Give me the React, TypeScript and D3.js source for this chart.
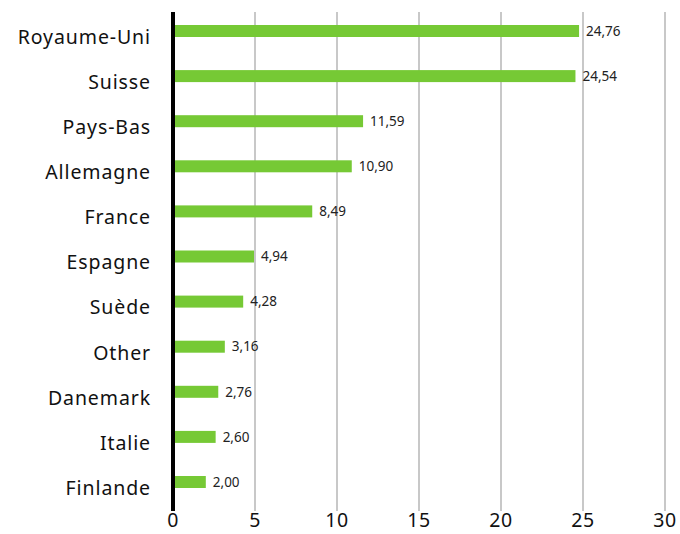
import React from 'react';
import * as d3 from 'd3';

const countries = ['Royaume-Uni', 'Suisse', 'Pays-Bas', 'Allemagne', 'France', 'Espagne', 'Suède', 'Other', 'Danemark', 'Italie', 'Finlande'];
const values = [24.76, 24.54, 11.59, 10.9, 8.49, 4.94, 4.28, 3.16, 2.76, 2.6, 2.0];
const ticks = [0, 5, 10, 15, 20, 25, 30];

const W = 680;
const H = 534;
const FONT = '"Noto Sans", sans-serif';

export default function App() {
  const x = d3.scaleLinear().domain([0, 30]).range([173, 665]);
  const y = d3.scaleBand<string>()
    .domain(countries)
    .range([8.45, 504.55])
    .paddingInner(0.734)
    .paddingOuter(0.367);
  const bw = y.bandwidth();
  const fmt = (v: number) => v.toFixed(2).replace('.', ',');

  return (
    <svg width={W} height={H} style={{ position: 'absolute', left: 0, top: 0 }} fontFamily={FONT}>
      {/* grid */}
      {ticks.slice(1).map(t => (
        <line key={t} x1={x(t)} x2={x(t)} y1={12} y2={511} stroke="#c8c8c8" strokeWidth={2} />
      ))}
      {/* bars */}
      {countries.map((c, i) => (
        <g key={c}>
          <rect x={x(0)} y={y(c)} width={x(values[i]) - x(0)} height={bw} fill="#76c935" />
          <text x={x(values[i]) + 7} y={(y(c) as number) + bw / 2} dy="0.35em" fontSize={13.5} fill="#222">
            {fmt(values[i])}
          </text>
          <text x={151} y={(y(c) as number) + bw / 2 + 6} dy="0.35em" textAnchor="end" fontSize={19.5}
            letterSpacing={0.9} fill="#111">
            {c}
          </text>
        </g>
      ))}
      {/* axis */}
      <line x1={x(0)} x2={x(0)} y1={12} y2={511} stroke="#000" strokeWidth={4} />
      {ticks.map(t => (
        <text key={t} x={x(t)} y={527} textAnchor="middle" fontSize={19.5} letterSpacing={0.5} fill="#111">{t}</text>
      ))}
    </svg>
  );
}
